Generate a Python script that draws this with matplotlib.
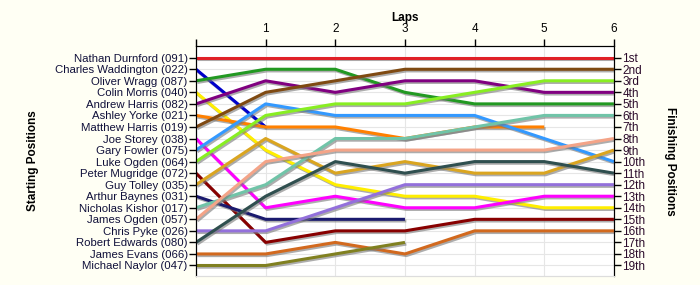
import numpy as np
import matplotlib
matplotlib.use("Agg")
import matplotlib.pyplot as plt
import matplotlib.patheffects as pe

# drivers in starting order, position after each lap (nan = retired)
drivers = ["Nathan Durnford (091)", "Charles Waddington (022)", "Oliver Wragg (087)",
           "Colin Morris (040)", "Andrew Harris (082)", "Ashley Yorke (021)",
           "Matthew Harris (019)", "Joe Storey (038)", "Gary Fowler (075)",
           "Luke Ogden (064)", "Peter Mugridge (072)", "Guy Tolley (035)",
           "Arthur Baynes (031)", "Nicholas Kishor (017)", "James Ogden (057)",
           "Chris Pyke (026)", "Robert Edwards (080)", "James Evans (066)",
           "Michael Naylor (047)"]
n = np.nan
positions = [
    [1, 1, 1, 1, 1, 1, 1],
    [2, 7, n, n, n, n, n],
    [3, 2, 2, 4, 5, 5, 5],
    [4, 9, 12, 13, 13, 14, 14],
    [5, 3, 4, 3, 3, 4, 4],
    [6, 7, 7, 8, 7, 7, n],
    [7, 4, 3, 2, 2, 2, 2],
    [8, 14, 13, 14, 14, 13, 13],
    [9, 5, 6, 6, 6, 8, 10],
    [10, 6, 5, 5, 4, 3, 3],
    [11, 17, 16, 16, 15, 15, 15],
    [12, 8, 11, 10, 11, 11, 9],
    [13, 15, 15, 15, n, n, n],
    [14, 12, 8, 8, 7, 6, 6],
    [15, 10, 9, 9, 9, 9, 8],
    [16, 16, 14, 12, 12, 12, 12],
    [17, 13, 10, 11, 10, 10, 11],
    [18, 18, 17, 18, 16, 16, 16],
    [19, 19, 18, 17, n, n, n],
]
colors = ["#E02028", "#0000CC", "#229922", "#FFEE00", "#800080", "#FF8000",
          "#7F4A12", "#FF00FF", "#3399FF", "#88EE22", "#880000", "#DAA520",
          "#1A1A6E", "#70C4A8", "#F4A488", "#9370DB", "#2F4F4F", "#D2691E",
          "#808020"]
laps = [0, 1, 2, 3, 4, 5, 6]
finish_labels = ["1st", "2nd", "3rd"] + [f"{i}th" for i in range(4, 20)]

plt.rcParams['font.family'] = ['Liberation Sans', 'DejaVu Sans']

fig = plt.figure(figsize=(7, 2.85), dpi=100, facecolor="#FFFFF4")
ax = fig.add_axes([0.28, 0.032, 0.597, 0.806])
ax.set_facecolor("white")

for pos, c in zip(positions, colors):
    ax.plot(laps, pos, color=c, lw=2.2, solid_capstyle="butt",
            path_effects=[pe.SimpleLineShadow(offset=(1, -1.2), shadow_color="#777777", alpha=0.6),
                          pe.Normal()])

ax.set_xlim(0, 6)
ax.set_ylim(19.9, 0)

ax.xaxis.tick_top()
ax.set_xticks(laps)
ax.set_xticklabels([""] + [str(l) for l in laps[1:]], fontsize=8.5)
ax.xaxis.set_label_position("top")
ax.set_xlabel("Laps", fontsize=8.5, fontweight="bold")
ax.xaxis.set_label_coords(0.5, 1.11)

rows = np.arange(1, 20)
ax.set_yticks(rows)
ax.set_yticklabels(drivers, fontsize=8.2, color="#10103A")
ax.set_ylabel("Starting Positions", fontsize=8.5, fontweight="bold")
ax.yaxis.set_label_coords(-0.375, 0.5)

ax2 = ax.twinx()
ax2.set_ylim(19.9, 0)
ax2.set_yticks(rows)
ax2.set_yticklabels(finish_labels, fontsize=8.5, color="#2A0A2A")
ax2.set_ylabel("Finishing Positions", fontsize=8.5, fontweight="bold", rotation=270, va="bottom")
ax2.yaxis.set_label_coords(1.12, 0.5)

for a in (ax, ax2):
    a.tick_params(axis="y", length=5, width=1, pad=1, direction="out")
    a.spines["bottom"].set_color("#DDDDDD")
ax.tick_params(axis="x", length=5, width=1, pad=3, direction="out")
ax.grid(True, color="#E6E6E6", lw=0.8)
ax.set_axisbelow(True)

fig.savefig("out.png", dpi=100, facecolor=fig.get_facecolor())
